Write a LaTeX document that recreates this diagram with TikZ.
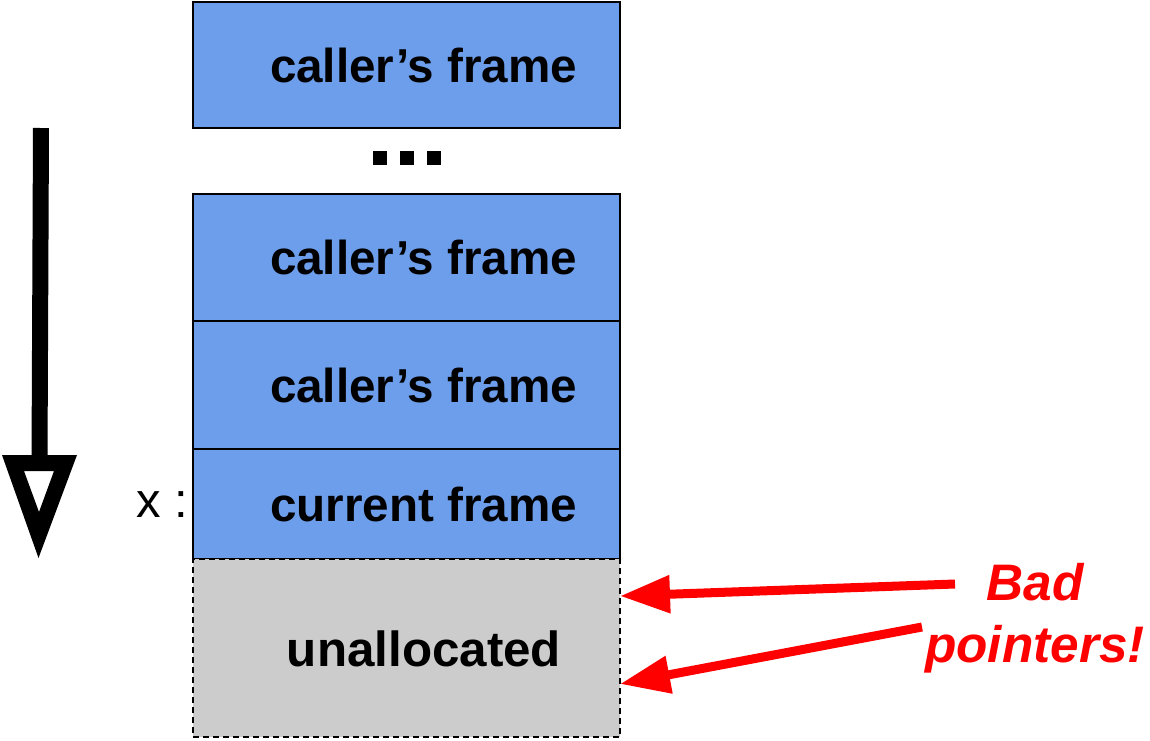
\documentclass[tikz,border=0pt]{standalone}
\usepackage{fontspec}
\setmainfont{Liberation Sans}
\usetikzlibrary{arrows.meta}
\definecolor{frameblue}{HTML}{6D9EEB}
\definecolor{freegray}{HTML}{CCCCCC}
\definecolor{alertred}{HTML}{FF0000}

\begin{document}
\begin{tikzpicture}[x=0.75pt,y=-0.75pt,
  framebox/.style={draw=black, line width=1.5pt, fill=frameblue,
    minimum width=320.25pt, inner sep=0pt, outer sep=0pt, anchor=north west},
  freebox/.style={framebox, fill=freegray, line width=1.1pt,
    dash pattern=on 4.5pt off 3pt},
  framelabel/.style={font=\fontsize{35.7pt}{40pt}\selectfont\bfseries, inner sep=0pt},
  dotbox/.style={fill=black, minimum size=10.5pt, inner sep=0pt, outer sep=0pt},
  badptr/.style={draw=alertred, line width=6.75pt,
    -{Triangle[length=37.5pt, width=27pt]}},
]
\useasboundingbox (0,0) rectangle (1150,740);

% stack frames, top to bottom
\node[framebox, minimum height=94.5pt] (f1) at (193,2) {};
\node[framebox, minimum height=95.25pt] (f2) at (193,194) {};
\node[framebox, minimum height=96pt] (f3) at (193,321) {};
\node[framebox, minimum height=82.5pt] (cur) at (193,449) {};
\node[freebox, minimum height=133.5pt] (free) at (193,559) {};

\node[framelabel] at ([xshift=12.75pt]f1.center) {caller’s frame};
\node[framelabel] at ([xshift=12.75pt]f2.center) {caller’s frame};
\node[framelabel] at ([xshift=12.75pt]f3.center) {caller’s frame};
\node[framelabel] at ([xshift=12.75pt]cur.center) {current frame};
\node[framelabel, font=\fontsize{37pt}{40pt}\selectfont\bfseries, anchor=base]
  at (424,666) {unallocated};

% ellipsis between frames
\node[dotbox] (d1) at (380,158) {};
\node[dotbox] (d2) at (407,158) {};
\node[dotbox] (d3) at (434,158) {};

% variable label
\node[font=\fontsize{36.75pt}{40pt}\selectfont, inner sep=0pt, anchor=base west]
  (xlab) at (136,517) {x :};

% direction of stack growth
\coordinate (gtop) at (41,128);
\coordinate (gbot) at (39.5,462);
\draw[line width=12pt] (gtop) -- (gbot);
\fill[even odd rule] (2,455) -- (77,455) -- (38.5,558) -- cycle
  (24,471) -- (54,471) -- (39,512) -- cycle;

% bad pointers
\node[font=\fontsize{38.5pt}{46.5pt}\selectfont\bfseries\itshape, text=alertred,
  align=center, inner sep=0pt] (bad) at (1035,618) {Bad\\pointers!};
\coordinate (p1) at (955,584);
\coordinate (p2) at (922,627);
\coordinate (t1) at (free.east |- 0,596);
\coordinate (t2) at (free.east |- 0,684);
\draw[badptr] (p1) -- (t1);
\draw[badptr] (p2) -- (t2);
\end{tikzpicture}
\end{document}
